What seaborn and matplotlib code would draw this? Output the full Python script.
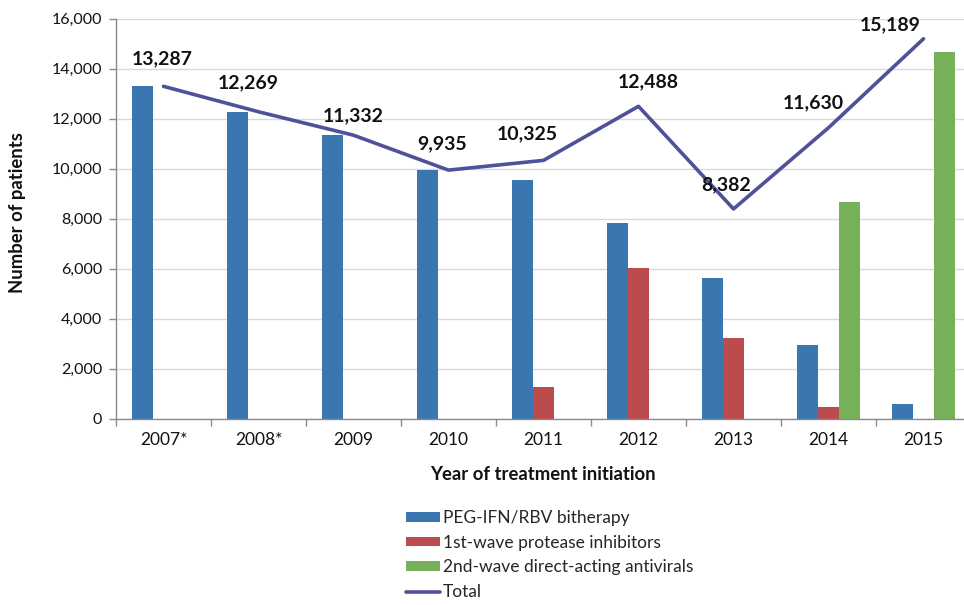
import numpy as np
import pandas as pd
import matplotlib
matplotlib.use("Agg")
import matplotlib.pyplot as plt
import seaborn as sns

years = ["2007*", "2008*", "2009", "2010", "2011", "2012", "2013", "2014", "2015"]
peg_ifn = [13287, 12269, 11332, 9935, 9560, 7840, 5640, 2960, 580]
pi_1st = [0, 0, 0, 0, 1280, 6040, 3240, 480, 0]
daa_2nd = [0, 0, 0, 0, 0, 0, 0, 8660, 14660]
total = [13287, 12269, 11332, 9935, 10325, 12488, 8382, 11630, 15189]
series_names = ["PEG-IFN/RBV bitherapy", "1st-wave protease inhibitors",
                "2nd-wave direct-acting antivirals"]
yticks = [0, 2000, 4000, 6000, 8000, 10000, 12000, 14000, 16000]

# label offsets (pixels) for total labels
label_offsets = [(-1, 28), (-10, 29), (0, 19), (-6, 26), (-16, 27),
                 (10, 25), (-7, 24), (-15, 25), (-33, 14)]

colors = ["#3a77b0", "#bb4b4c", "#76b05b"]
line_color = "#4f5299"

sns.set_theme(style="white")
plt.rcParams["font.family"] = ["Lato", "DejaVu Sans"]

df = pd.DataFrame({
    "year": years * 3,
    "value": peg_ifn + pi_1st + daa_2nd,
    "series": [series_names[0]] * 9 + [series_names[1]] * 9 + [series_names[2]] * 9,
})

fig = plt.figure(figsize=(9.64, 6.05), dpi=100)
ax = fig.add_axes([116 / 964, 1 - 418.5 / 605, 855 / 964, 400 / 605])

sns.barplot(data=df, x="year", y="value", hue="series", hue_order=series_names,
            order=years, palette=colors, width=0.66, gap=0, saturation=1,
            linewidth=0, ax=ax, legend=True)
sns.lineplot(x=np.arange(len(years)), y=total, color=line_color, linewidth=2.6,
             ax=ax, label="Total")

for i, (v, (dx, dy)) in enumerate(zip(total, label_offsets)):
    ax.annotate(f"{v:,}", xy=(i, v), xytext=(dx, dy), textcoords="offset pixels",
                ha="center", va="center", fontsize=14, fontweight="bold",
                color="#111111")

ax.set_xlim(-0.5, len(years) - 0.5)
ax.set_ylim(0, 16000)
ax.set_yticks(yticks)
ax.set_yticklabels([f"{t:,}" for t in yticks])
ax.yaxis.grid(True, color="#d9d9d9", linewidth=1)
ax.set_axisbelow(True)
ax.set_xlabel("")
ax.set_ylabel("")

ax.set_xticks(np.arange(len(years)))
ax.set_xticklabels(years)
ax.set_xticks(np.arange(len(years) + 1) - 0.5, minor=True)
ax.tick_params(axis="x", which="major", length=0, pad=10, labelsize=12.5,
               labelcolor="#111111")
ax.tick_params(axis="x", which="minor", length=5, width=1, color="#8a8a8a",
               direction="out", bottom=True)
ax.tick_params(axis="y", which="major", length=5, width=1, color="#8a8a8a",
               direction="out", left=True, pad=5, labelsize=11.5,
               labelcolor="#111111")

for s in ["top", "right"]:
    ax.spines[s].set_visible(False)
for s in ["left", "bottom"]:
    ax.spines[s].set_color("#8a8a8a")
    ax.spines[s].set_linewidth(1)

fig.text(18 / 964, 1 - 213 / 605, "Number of patients", rotation=90,
         ha="center", va="center", fontsize=13.3, fontweight="bold", color="#111111")
fig.text(543 / 964, 1 - 474 / 605, "Year of treatment initiation",
         ha="center", va="center", fontsize=13.3, fontweight="bold", color="#111111")

handles, labels = ax.get_legend_handles_labels()
if ax.get_legend() is not None:
    ax.get_legend().remove()
fig.legend(handles, labels, loc="upper left",
           bbox_to_anchor=(406 / 964, 1 - 510 / 605), frameon=False,
           fontsize=12.5, handlelength=1.95, handleheight=0.46, handletextpad=0.17,
           labelspacing=0.5, borderaxespad=0, borderpad=0)

fig.savefig("out.png", dpi=100)
